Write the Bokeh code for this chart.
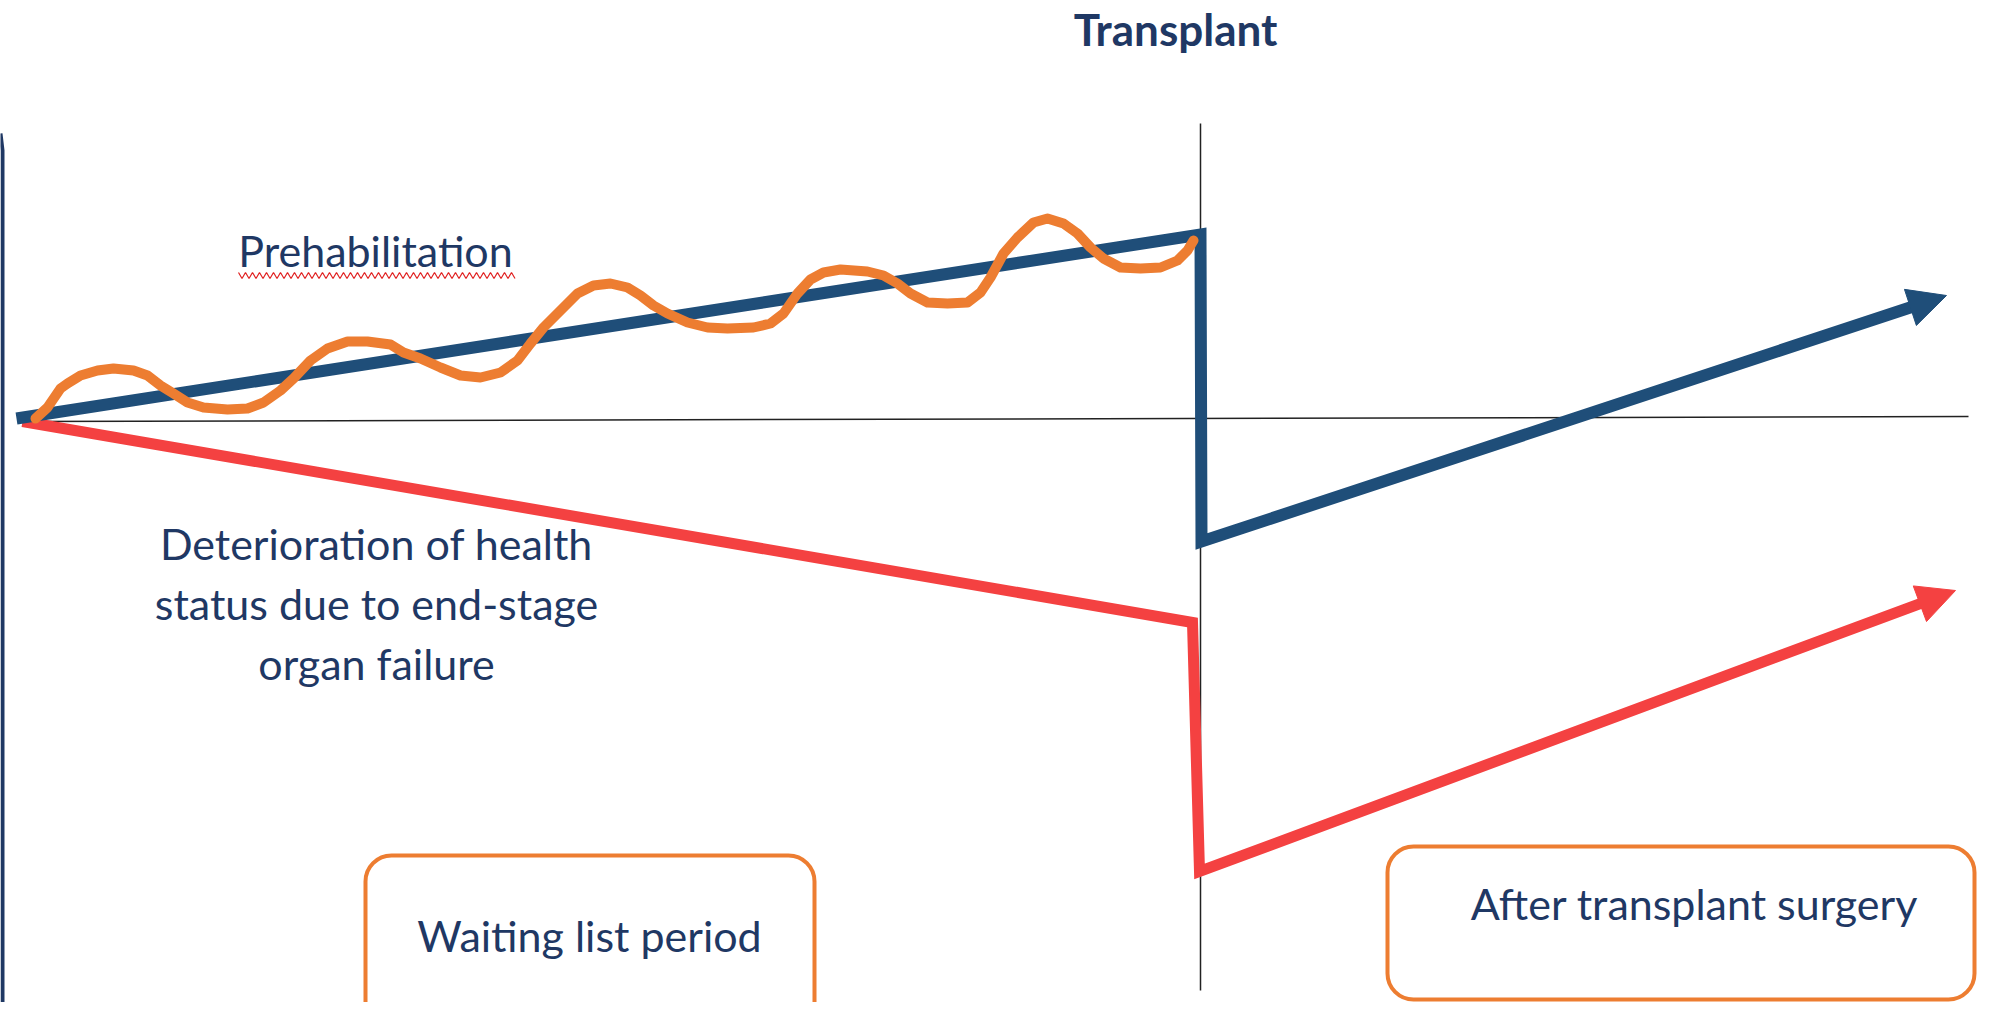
import numpy as np
from bokeh.plotting import figure
from bokeh.models import Range1d, Arrow, NormalHead
from bokeh.core.properties import value
from bokeh.embed import file_html
from bokeh.resources import INLINE

# ---------------- data (reference pixel coordinates, y downwards) -------------
axis_h_x = [17, 1968]
axis_h_y = [421, 416]
axis_v_x = [1200, 1200]
axis_v_y = [123, 990]

# blue "prehabilitation" trajectory (last point = arrow tip)
prehab_x = [16, 1200, 1201, 1946]
prehab_y = [418, 234, 541, 295]

# red trajectory (last point = arrow tip)
deter_x = [22, 1192, 1199, 1955]
deter_y = [421, 622, 871, 590]

# orange hand-drawn wave
wave_x = [35, 47, 60, 67, 80, 97, 113, 133, 147, 160, 173, 187, 203, 227, 247,
          263, 280, 293, 310, 327, 347, 367, 390, 403, 420, 440, 460, 480, 500,
          517, 530, 543, 560, 577, 593, 610, 627, 640, 653, 667, 687, 707, 727,
          753, 770, 783, 797, 810, 823, 840, 867, 883, 897, 910, 927, 947, 967,
          980, 990, 1003, 1017, 1033, 1047, 1063, 1077, 1090, 1103, 1120, 1140,
          1160, 1177, 1187, 1193]
wave_y = [418, 407, 388, 383, 375, 370, 368, 370, 375, 385, 393, 402, 407, 409, 408,
          402, 390, 378, 360, 348, 341, 341, 344, 352, 358, 367, 375, 377, 372,
          360, 343, 327, 310, 293, 285, 283, 287, 295, 305, 313, 322, 327, 328,
          327, 323, 313, 293, 279, 272, 269, 271, 275, 283, 293, 302, 303, 302,
          292, 277, 253, 237, 222, 218, 223, 233, 247, 258, 267, 268,
          267, 260, 250, 240]

# rounded boxes
box_left = [365, 1387]
box_right = [814, 1974]
box_top = [855, 846]
box_bottom = [1060, 999]
box_labels = ["Waiting list period", "After transplant surgery"]
box_label_x = [589, 1694]
box_label_y = [952, 920]

note_lines = ["Deterioration of health", "status due to end-stage", "organ failure"]
note_x = [376, 376, 376]
note_y = [560, 620, 680]

title_text = ["Transplant"]
title_x = [1175]
title_y = [45]

prehab_label = ["Prehabilitation"]
prehab_label_x = [375]
prehab_label_y = [267]

# ---------------- styles ----------------
NAVY = "#1F3864"
BLUE = "#1F4E79"
RED = "#F44141"
ORANGE = "#ED7D31"
FONT = "Lato"
FS = "43px"
YOFF = -17

p = figure(width=1978, height=1002,
           x_range=Range1d(0, 1978), y_range=Range1d(1002, 0),
           output_backend="svg", toolbar_location=None, min_border=0,
           x_axis_location=None, y_axis_location=None)
p.grid.visible = False
p.outline_line_color = None
p.background_fill_color = "white"

# left border of slide frame
p.line([0, 2, 2], [133, 150, 1002], line_color=NAVY, line_width=4)

# reference axes
p.line(axis_h_x, axis_h_y, line_color="#222222", line_width=1.5)
p.line(axis_v_x, axis_v_y, line_color="#222222", line_width=1.5)


def trajectory(xs, ys, color, width, head):
    xs = np.asarray(xs, float)
    ys = np.asarray(ys, float)
    dx, dy = xs[-1] - xs[-2], ys[-1] - ys[-2]
    L = np.hypot(dx, dy)
    bx, by = xs[-1] - dx / L * head * 0.65, ys[-1] - dy / L * head * 0.65
    lx = list(xs[:-1]) + [bx]
    ly = list(ys[:-1]) + [by]
    p.line(lx, ly, line_color=color, line_width=width, line_join="miter")
    p.add_layout(Arrow(end=NormalHead(size=head, fill_color=color, line_color=color, line_width=1),
                       x_start=bx, y_start=by, x_end=xs[-1], y_end=ys[-1],
                       line_alpha=0))


trajectory(deter_x, deter_y, RED, 11, 38)
trajectory(prehab_x, prehab_y, BLUE, 12, 38)

# orange wave on top
p.line(wave_x, wave_y, line_color=ORANGE, line_width=10, line_join="round", line_cap="round")

# boxes
p.quad(left=box_left, right=box_right, top=box_top, bottom=box_bottom,
       fill_color="white", line_color=ORANGE, line_width=4, border_radius=26)

# texts
common = dict(text_color=NAVY, text_font=value(FONT), text_align="center",
              text_baseline="alphabetic", y_offset=YOFF)
p.text(box_label_x, box_label_y, text=box_labels, text_font_size=FS, **common)
p.text(note_x, note_y, text=note_lines, text_font_size=FS, **common)
p.text(prehab_label_x, prehab_label_y, text=prehab_label, text_font_size=FS, **common)
p.text(title_x, title_y, text=title_text, text_font_size="44px",
       text_font_style="bold", **common)

# spell-check squiggle under "Prehabilitation"
sq_x = list(np.arange(238, 516, 3.5))
sq_y = [272 if i % 2 == 0 else 278 for i in range(len(sq_x))]
p.line(sq_x, sq_y, line_color="#E02020", line_width=1.2)

open("out.html", "w").write(file_html(p, INLINE))
